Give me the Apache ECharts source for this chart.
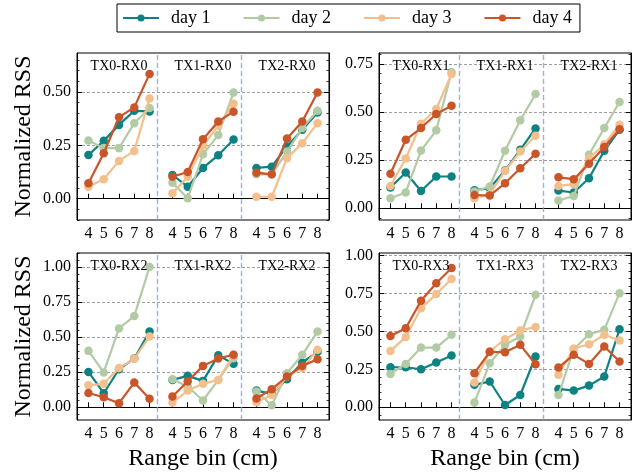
<!DOCTYPE html>
<html><head><meta charset="utf-8">
<script src="https://cdn.jsdelivr.net/npm/echarts@6/dist/echarts.min.js"></script>
<style>html,body{margin:0;padding:0;background:#fff}#c{width:639px;height:472px}</style>
</head><body><div id="c"></div>
<script>
// ---------- data ----------
const days = ['day 1', 'day 2', 'day 3', 'day 4'];
const rangeBins = [4, 5, 6, 7, 8];
const titlesRX0 = ['TX0-RX0', 'TX1-RX0', 'TX2-RX0'];
const titlesRX1 = ['TX0-RX1', 'TX1-RX1', 'TX2-RX1'];
const titlesRX2 = ['TX0-RX2', 'TX1-RX2', 'TX2-RX2'];
const titlesRX3 = ['TX0-RX3', 'TX1-RX3', 'TX2-RX3'];

// each array: [TX0 group, TX1 group, TX2 group], values for range bins 4..8
const rx0Day1 = [[0.205,0.271,0.346,0.412,0.409],[0.111,0.056,0.144,0.204,0.277],[0.144,0.150,0.245,0.323,0.404]];
const rx0Day2 = [[0.273,0.237,0.237,0.354,0.425],[0.075,0.002,0.208,0.299,0.498],[0.114,0.114,0.221,0.331,0.412]];
const rx0Day3 = [[0.056,0.091,0.177,0.224,0.470],[0.025,0.103,0.248,0.342,0.445],[0.009,0.009,0.190,0.260,0.354]];
const rx0Day4 = [[0.072,0.213,0.382,0.428,0.585],[0.103,0.125,0.279,0.362,0.408],[0.122,0.114,0.282,0.362,0.498]];

const rx1Day1 = [[0.108,0.186,0.090,0.165,0.165],[0.094,0.104,0.196,0.304,0.415],[0.092,0.082,0.156,0.299,0.408]];
const rx1Day2 = [[0.052,0.082,0.300,0.405,0.708],[0.087,0.113,0.299,0.457,0.594],[0.040,0.064,0.278,0.417,0.552]];
const rx1Day3 = [[0.116,0.259,0.439,0.516,0.698],[0.052,0.073,0.194,0.295,0.377],[0.116,0.125,0.260,0.333,0.434]];
const rx1Day4 = [[0.179,0.356,0.417,0.490,0.533],[0.069,0.066,0.130,0.208,0.283],[0.161,0.151,0.231,0.318,0.411]];

const rx2Day1 = [[0.252,0.100,0.271,0.348,0.540],[0.195,0.224,0.188,0.370,0.310],[0.119,0.095,0.200,0.319,0.395]];
const rx2Day2 = [[0.402,0.248,0.562,0.650,1.000],[0.200,0.148,0.048,0.195,0.350],[0.112,0.014,0.243,0.374,0.540]];
const rx2Day3 = [[0.157,0.167,0.279,0.345,0.505],[0.033,0.119,0.167,0.195,0.374],[0.036,0.088,0.219,0.279,0.410]];
const rx2Day4 = [[0.102,0.071,0.029,0.176,0.060],[0.076,0.186,0.295,0.348,0.374],[0.062,0.129,0.219,0.295,0.343]];

const rx3Day1 = [[0.264,0.264,0.251,0.295,0.341],[0.148,0.170,0.015,0.081,0.335],[0.121,0.110,0.143,0.203,0.515]];
const rx3Day2 = [[0.220,0.286,0.394,0.394,0.478],[0.031,0.291,0.412,0.467,0.742],[0.081,0.383,0.482,0.511,0.753]];
const rx3Day3 = [[0.372,0.463,0.654,0.747,0.846],[0.163,0.368,0.449,0.507,0.529],[0.214,0.388,0.416,0.478,0.441]];
const rx3Day4 = [[0.471,0.522,0.703,0.819,0.919],[0.225,0.366,0.363,0.412,0.284],[0.262,0.346,0.286,0.401,0.302]];

const yTicksRX0 = [0, 0.25, 0.5];
const yTicksRX1 = [0, 0.25, 0.5, 0.75];
const yTicksRX2 = [0, 0.25, 0.5, 0.75, 1.0];
const yTicksRX3 = [0, 0.25, 0.5, 0.75, 1.0];

// ---------- layout / style ----------
const colors = ['#0d8283', '#b2cba5', '#f3c08d', '#c95529'];
const FONT = 'Liberation Serif, Times New Roman, serif';
const groupOffset = 5.5;          // horizontal distance between TX groups (axis units)
const catStart = 3.5, catStep = 0.5, catCount = 33;
const cats = [];
for (let i = 0; i < catCount; i++) cats.push(String(catStart + i * catStep));
const catIndex = u => Math.round((u - catStart) / catStep);
const tickIdx = new Set(), labelOf = {};
for (let g = 0; g < 3; g++) rangeBins.forEach(b => {
  const u = b + g * groupOffset; tickIdx.add(catIndex(u)); labelOf[String(u)] = String(b);
});
const dividers = [String(8 + 0.5), String(8 + 0.5 + groupOffset)];

const panels = [
  { left: 77,  top: 53,  min: -0.1,  max: 0.683, ticks: yTicksRX0, titles: titlesRX0, data: [rx0Day1, rx0Day2, rx0Day3, rx0Day4], yName: true,  xName: false },
  { left: 379, top: 53,  min: -0.061, max: 0.807, ticks: yTicksRX1, titles: titlesRX1, data: [rx1Day1, rx1Day2, rx1Day3, rx1Day4], yName: false, xName: false },
  { left: 77,  top: 253, min: -0.091, max: 1.1,  ticks: yTicksRX2, titles: titlesRX2, data: [rx2Day1, rx2Day2, rx2Day3, rx2Day4], yName: true,  xName: true },
  { left: 379, top: 253, min: -0.084, max: 1.018, ticks: yTicksRX3, titles: titlesRX3, data: [rx3Day1, rx3Day2, rx3Day3, rx3Day4], yName: false, xName: true }
];
const W = 252, H = 167;
const minorStep = 0.05;

const grid = [], xAxis = [], yAxis = [], series = [];
panels.forEach((p, pi) => {
  grid.push({ left: p.left, top: p.top, width: W, height: H, show: true, borderColor: '#000', borderWidth: 1, backgroundColor: 'transparent' });
  xAxis.push({
    type: 'category', gridIndex: pi, data: cats, boundaryGap: true,
    axisLine: { show: true, lineStyle: { color: '#000', width: 1 } },
    axisTick: { show: true, inside: true, length: 5, alignWithLabel: true, interval: i => tickIdx.has(i), lineStyle: { color: '#000', width: 1 } },
    axisLabel: { show: true, interval: i => tickIdx.has(i), formatter: v => labelOf[v] || '', fontFamily: FONT, fontSize: 16, color: '#000', margin: 6 },
    splitLine: { show: false },
    name: p.xName ? 'Range bin (cm)' : '', nameLocation: 'middle', nameGap: 27,
    nameTextStyle: { fontFamily: FONT, fontSize: 24, color: '#000' }
  });
  const minor = [];
  for (let v = Math.ceil(p.min / minorStep) * minorStep; v <= p.max + 1e-9; v += minorStep) {
    const r = Math.round(v * 1000) / 1000;
    if (Math.abs(r / 0.25 - Math.round(r / 0.25)) > 1e-6) minor.push(r);
  }
  const base = { type: 'value', gridIndex: pi, min: p.min, max: p.max, splitNumber: 3 };
  yAxis.push(Object.assign({}, base, {
    position: 'left',
    axisLine: { show: true, lineStyle: { color: '#000', width: 1 } },
    axisTick: { show: true, inside: true, length: 5, customValues: p.ticks, lineStyle: { color: '#000', width: 1 } },
    axisLabel: { show: true, customValues: p.ticks, formatter: v => v.toFixed(2), fontFamily: FONT, fontSize: 16, color: '#000', margin: 6 },
    splitLine: { show: true, lineStyle: { type: [3, 2], color: '#888', width: 0.8 } },
    name: p.yName ? 'Normalized RSS' : '', nameLocation: 'middle', nameGap: 41,
    nameTextStyle: { fontFamily: FONT, fontSize: 24, color: '#000' }
  }));
  yAxis.push(Object.assign({}, base, {
    position: 'left',
    axisLine: { show: false },
    axisTick: { show: true, inside: true, length: 2.5, customValues: minor, lineStyle: { color: '#000', width: 0.8 } },
    axisLabel: { show: false }, splitLine: { show: false }
  }));
  yAxis.push(Object.assign({}, base, {
    position: 'right',
    axisLine: { show: true, lineStyle: { color: '#000', width: 1 } },
    axisTick: { show: true, inside: true, length: 5, customValues: p.ticks, lineStyle: { color: '#000', width: 1 } },
    axisLabel: { show: false }, splitLine: { show: false }
  }));
  yAxis.push(Object.assign({}, base, {
    position: 'right',
    axisLine: { show: false },
    axisTick: { show: true, inside: true, length: 2.5, customValues: minor, lineStyle: { color: '#000', width: 0.8 } },
    axisLabel: { show: false }, splitLine: { show: false }
  }));

  // group dividers
  series.push({
    type: 'line', name: 'div' + pi, xAxisIndex: pi, yAxisIndex: pi * 4, data: new Array(catCount).fill(null),
    silent: true, z: 1,
    markLine: { silent: true, symbol: 'none', label: { show: false }, animation: false,
      lineStyle: { type: [5, 3], color: '#7fa2d0', width: 1.4, opacity: 0.8 },
      data: dividers.map(d => ({ xAxis: d })) }
  });
  // one line per day per TX group (same name -> single legend entry)
  p.data.forEach((dayArr, di) => {
    dayArr.forEach((grp, g) => {
      const pts = grp.map((v, k) => [String(rangeBins[k] + g * groupOffset), v]);
      series.push({
        type: 'line', name: days[di], xAxisIndex: pi, yAxisIndex: pi * 4, data: pts,
        symbol: 'circle', symbolSize: 8.5, z: 3 + di,
        itemStyle: { color: colors[di] }, lineStyle: { color: colors[di], width: 2.2 },
        emphasis: { disabled: true }, animation: false
      });
    });
  });
});

const chart = echarts.init(document.getElementById('c'), null, { renderer: 'canvas' });
chart.setOption({
  animation: false,
  backgroundColor: '#fff',
  grid, xAxis, yAxis, series,
  legend: {
    data: days, left: 117, top: 4, orient: 'horizontal',
    padding: [5, 8, 5, 5], borderColor: '#000', borderWidth: 1, borderRadius: 0,
    itemWidth: 36, itemHeight: 9, itemGap: 32,
    textStyle: { fontFamily: FONT, fontSize: 18, color: '#000', padding: [0, 0, 0, 7] }
  }
});

const graphics = [];
panels.forEach((p, pi) => {
  p.titles.forEach((t, g) => {
    const x = chart.convertToPixel({ xAxisIndex: pi }, String(6 + g * groupOffset));
    graphics.push({ type: 'text', x: x, y: p.top + 13, z: 10,
      style: { text: t, font: '14px ' + FONT, fill: '#000', textAlign: 'center', textVerticalAlign: 'middle', align: 'center', verticalAlign: 'middle' } });
  });
});
chart.setOption({ graphic: graphics });
</script></body></html>
